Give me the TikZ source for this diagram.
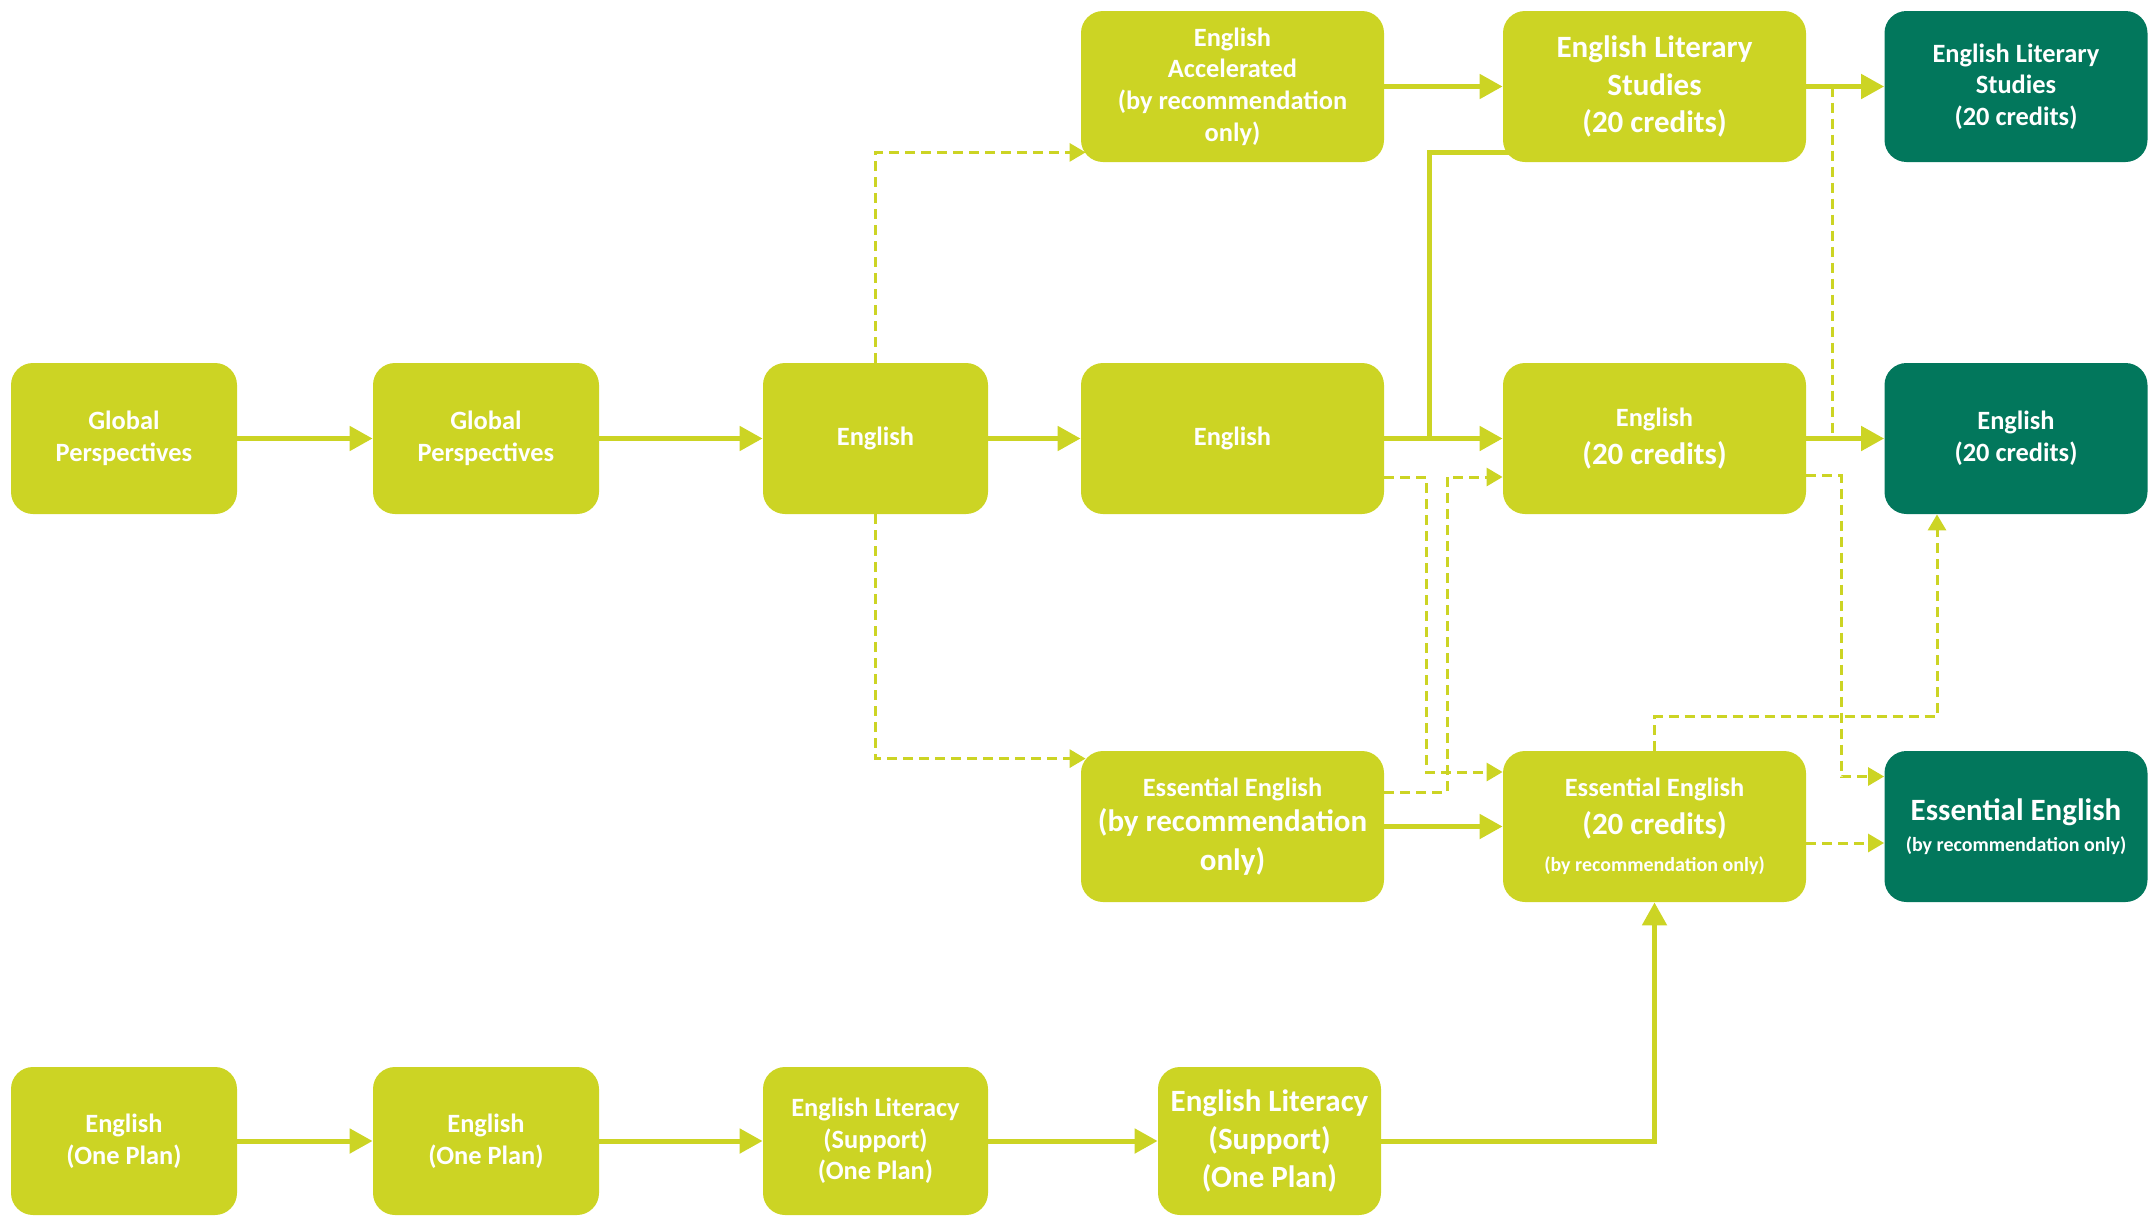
\documentclass[tikz,border=0pt]{standalone}
\usepackage{fontspec}
\setmainfont{Carlito}
\usetikzlibrary{arrows.meta,calc,backgrounds}
\definecolor{lime}{HTML}{CCD424}
\definecolor{deep}{HTML}{02775C}
\newcommand{\fsm}{\fontsize{13.2}{15.8}\selectfont}
\newcommand{\flg}{\fontsize{15.5}{18.9}\selectfont}
\newcommand{\fxs}{\fontsize{10}{13}\selectfont}
\begin{document}
\begin{tikzpicture}[x=0.5pt,y=-0.5pt,
  box/.style={fill=lime, rounded corners=11pt, text=white, font=\bfseries\fsm, align=center, inner sep=0pt, minimum height=75.5pt, minimum width=151.5pt},
  sbox/.style={box, minimum width=113pt},
  dbox/.style={box, fill=deep, minimum width=131.5pt},
  lowbox/.style={sbox, minimum height=74pt},
  solidline/.style={draw=lime, line width=2.5pt},
  solidarrow/.style={solidline, -{Triangle[length=11.5pt,width=12pt]}},
  dashline/.style={draw=lime, line width=1.5pt, dash pattern=on 5pt off 3pt},
  dasharrow/.style={dashline, -{Triangle[length=8pt,width=9pt]}},
]
\useasboundingbox (0,0) rectangle (2149,1216);

% middle row
\node[sbox] (gp1) at (124,438.5) {Global\\Perspectives};
\node[sbox] (gp2) at (486,438.5) {Global\\Perspectives};
\node[sbox, minimum width=112.5pt] (e3) at (875.5,438.5) {English};
\node[box] (e4) at (1232.5,438.5) {English};
\node[box] (e20) at (1654.5,438.5) {English\\[3pt]\flg(20 credits)};
\node[dbox] (de20) at (2016,438.5) {English\\(20 credits)};

% top row
\node[box] (ea) at (1232.5,86.5) {English\\Accelerated\\(by recommendation\\only)};
\node[box, font=\bfseries\flg] (els) at (1654.5,86.5) {English Literary\\Studies\\(20 credits)};
\node[dbox] (dels) at (2016,86.5) {English Literary\\Studies\\(20 credits)};

% essential row
\node[box] (ee) at (1232.5,826.5) {Essential English\\[2pt]\flg(by recommendation\\[3.5pt]\flg only)};
\node[box] (ee20) at (1654.5,826.5) {Essential English\\[3pt]\flg(20 credits)\\[3pt]\fxs(by recommendation only)};
\node[dbox] (dee) at (2016,826.5) {\flg Essential English\\\fxs(by recommendation only)};

% bottom row
\node[lowbox] (eop1) at (124,1141) {English\\(One Plan)};
\node[lowbox] (eop2) at (486,1141) {English\\(One Plan)};
\node[lowbox, minimum width=112.5pt] (elss1) at (875.5,1141) {English Literacy\\(Support)\\(One Plan)};
\node[lowbox, minimum width=111.5pt, font=\bfseries\flg] (elss2) at (1269.5,1141) {English Literacy\\(Support)\\(One Plan)};

\begin{scope}[on background layer]
  % solid arrows
  \draw[solidarrow] (gp1) -- (gp2);
  \draw[solidarrow] (gp2) -- (e3);
  \draw[solidarrow] (e3) -- (e4);
  \draw[solidarrow] (e4) -- (e20);
  \draw[solidarrow] (e20) -- (de20);
  \draw[solidarrow] (ea) -- (els);
  \draw[solidarrow] (els) -- (dels);
  \draw[solidarrow] (ee) -- (ee20);
  \draw[solidarrow] (eop1) -- (eop2);
  \draw[solidarrow] (eop2) -- (elss1);
  \draw[solidarrow] (elss1) -- (elss2);
  \draw[solidarrow] (elss2.east) -| (ee20.south);
  \draw[solidline] ($(e4.east)+(45,0)$) |- ($(els.south west)+(8,-10)$);

  % dashed arrows
  \draw[dasharrow] (e3.north) |- ($(ea.south west)+(5,-10)$);
  \draw[dasharrow] (e3.south) |- ($(ee.north west)+(5,8)$);
  \draw[dashline] ($(els.east)+(26,0)$) -- ($(e20.east)+(26,0)$);
  \draw[dasharrow] ($(e20.east)+(0,37)$) -- ++(35,0) |- ($(dee.west)+(0,-50)$);
  \draw[dasharrow] ($(e4.east)+(0,38.5)$) -- ++(42,0) |- ($(ee20.west)+(0,-54.5)$);
  \draw[dasharrow] ($(ee.east)+(0,-34.5)$) -- ++(63,0) |- ($(e20.west)+(0,38.5)$);
  \draw[dasharrow] (ee20.north) -- ++(0,-34) -| ($(de20.south)+(-79,0)$);
  \draw[dasharrow] ($(ee20.east)+(0,16.5)$) -- ($(dee.west)+(0,16.5)$);
\end{scope}
\end{tikzpicture}
\end{document}
